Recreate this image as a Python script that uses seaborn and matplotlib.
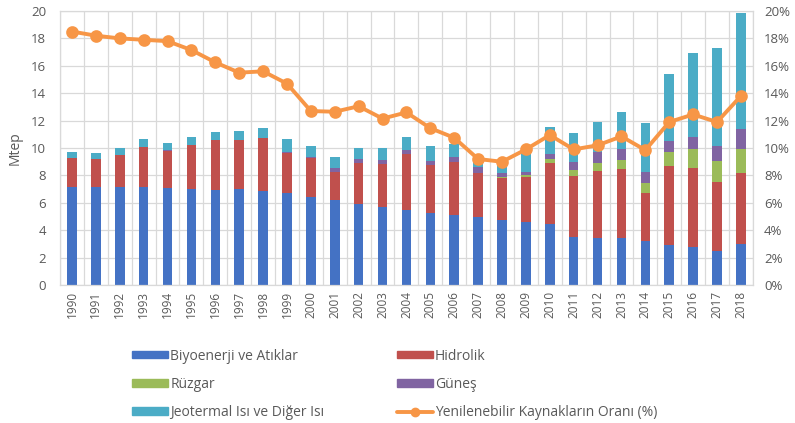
import numpy as np
import pandas as pd
import matplotlib
matplotlib.use("Agg")
import matplotlib.pyplot as plt
from matplotlib.patches import Patch
from matplotlib.lines import Line2D
from matplotlib.ticker import FuncFormatter
import seaborn as sns

# Türkiye yenilenebilir enerji arzı (Mtep) ve yenilenebilir payı (%)
years = [str(y) for y in range(1990, 2019)]

biyoenerji = [7.18, 7.18, 7.18, 7.15, 7.10, 7.00, 6.93, 7.00, 6.86, 6.69,
              6.40, 6.20, 5.91, 5.67, 5.47, 5.28, 5.11, 4.94, 4.74, 4.62,
              4.45, 3.48, 3.41, 3.41, 3.24, 2.92, 2.80, 2.50, 2.97]
hidrolik = [2.07, 2.02, 2.31, 2.90, 2.70, 3.20, 3.65, 3.58, 3.84, 2.95,
            2.85, 2.07, 2.97, 3.16, 4.07, 3.48, 3.89, 3.21, 3.05, 3.29,
            4.43, 4.48, 4.94, 5.03, 3.50, 5.77, 5.76, 5.04, 5.18]
ruzgar = [0.00, 0.00, 0.00, 0.00, 0.00, 0.00, 0.00, 0.00, 0.00, 0.00,
          0.00, 0.00, 0.00, 0.00, 0.00, 0.00, 0.01, 0.05, 0.08, 0.13,
          0.32, 0.43, 0.53, 0.68, 0.73, 0.99, 1.37, 1.54, 1.75]
gunes = [0.00, 0.00, 0.00, 0.00, 0.05, 0.00, 0.00, 0.00, 0.00, 0.09,
         0.12, 0.24, 0.29, 0.29, 0.31, 0.32, 0.36, 0.44, 0.28, 0.23,
         0.36, 0.61, 0.85, 0.78, 0.75, 0.86, 0.90, 1.09, 1.46]
jeotermal = [0.43, 0.46, 0.53, 0.58, 0.49, 0.63, 0.61, 0.66, 0.78, 0.90,
             0.78, 0.86, 0.85, 0.90, 0.98, 1.07, 0.90, 0.85, 0.75, 1.46,
             2.00, 2.12, 2.19, 2.70, 3.58, 4.86, 6.13, 7.15, 8.47]
oran = [18.5, 18.2, 18.0, 17.9, 17.8, 17.15, 16.25, 15.5, 15.6, 14.7,
        12.7, 12.65, 13.05, 12.15, 12.6, 11.45, 10.75, 9.2, 9.0, 9.9,
        10.95, 9.9, 10.2, 10.85, 9.85, 11.9, 12.45, 11.9, 13.8]

series_names = ["Biyoenerji ve Atıklar", "Hidrolik", "Rüzgar", "Güneş",
                "Jeotermal Isı ve Diğer Isı"]
series_values = [biyoenerji, hidrolik, ruzgar, gunes, jeotermal]
series_colors = ["#4472C4", "#C0504D", "#9BBB59", "#8064A2", "#4BACC6"]
line_name = "Yenilenebilir Kaynakların Oranı (%)"
line_color = "#F79646"

sns.set_theme(style="white")
plt.rcParams["font.family"] = ["Open Sans", "DejaVu Sans"]
text_color = "#595959"
grid_color = "#D9D9D9"

fig = plt.figure(figsize=(7.95, 4.23), dpi=100)
ax = fig.add_axes([0.0755, 0.326, 0.8715, 0.648])

# stacked bars, one seaborn barplot per source
bottom = np.zeros(len(years))
for name, vals, col in zip(series_names, series_values, series_colors):
    df = pd.DataFrame({"yil": years, "deger": vals})
    sns.barplot(data=df, x="yil", y="deger", color=col, width=0.4,
                bottom=bottom.copy(), ax=ax, errorbar=None, saturation=1,
                linewidth=0, zorder=2)
    bottom += np.array(vals)

ax.set_ylim(0, 20)
ax.set_yticks(np.arange(0, 21, 2))
ax.set_xlim(-0.5, len(years) - 0.5)
ax.set_xticks(np.arange(-0.5, len(years), 1), minor=True)
ax.grid(which="major", axis="y", color=grid_color, linewidth=0.9, zorder=0)
ax.grid(which="minor", axis="x", color=grid_color, linewidth=0.9, zorder=0)
ax.set_axisbelow(True)
ax.set_xlabel("")
ax.set_ylabel("Mtep", fontsize=10, color=text_color, labelpad=6)
ax.tick_params(axis="x", which="both", length=0, labelsize=8.5,
               labelcolor=text_color, rotation=90, pad=4)
ax.tick_params(axis="y", length=0, labelsize=9.5, labelcolor=text_color, pad=10)
for sp in ax.spines.values():
    sp.set_color(grid_color)
    sp.set_linewidth(0.9)

# share of renewables on the secondary axis
ax2 = ax.twinx()
dfl = pd.DataFrame({"yil": years, "oran": oran})
sns.pointplot(data=dfl, x="yil", y="oran", color=line_color, markers="o",
              markersize=7, linewidth=2.8, errorbar=None, ax=ax2)
ax2.set_ylim(0, 20)
ax2.set_yticks(np.arange(0, 21, 2))
ax2.yaxis.set_major_formatter(FuncFormatter(lambda v, p: f"{v:.0f}%"))
ax2.set_ylabel("")
ax2.set_xlabel("")
ax2.grid(False)
ax2.tick_params(axis="y", length=0, labelsize=9.5, labelcolor=text_color, pad=8)
for sp in ax2.spines.values():
    sp.set_visible(False)

handles = [
    Patch(color=series_colors[0], label=series_names[0]),
    Patch(color=series_colors[2], label=series_names[2]),
    Patch(color=series_colors[4], label=series_names[4]),
    Patch(color=series_colors[1], label=series_names[1]),
    Patch(color=series_colors[3], label=series_names[3]),
    Line2D([], [], color=line_color, linewidth=2.8, marker="o",
           markersize=6, label=line_name),
]
leg = fig.legend(handles=handles, ncol=2, loc="upper left",
                 bbox_to_anchor=(0.166, 0.176), frameon=False, fontsize=10,
                 handlelength=2.6, handleheight=0.45, handletextpad=0.15,
                 labelspacing=0.95, columnspacing=5.2, borderaxespad=0,
                 borderpad=0)
for t in leg.get_texts():
    t.set_color(text_color)

fig.savefig("out.png", dpi=100)
